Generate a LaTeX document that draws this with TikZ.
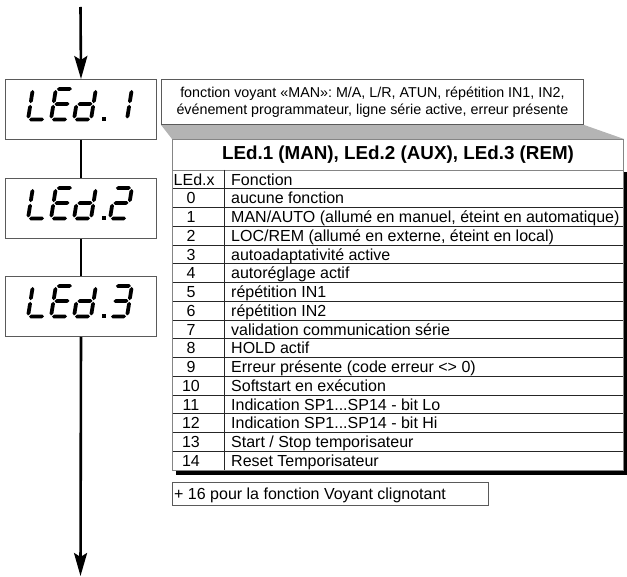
\documentclass[tikz,border=0pt]{standalone}
\usepackage{fontspec}
\setmainfont{Liberation Sans}
\usetikzlibrary{arrows.meta,backgrounds}
\definecolor{boxgray}{HTML}{5A5A5A}
\definecolor{tabgray}{HTML}{858585}
\definecolor{trapgray}{HTML}{B4B4B4}
\newcommand\hsg[3]{\fill (#1,#3) -- ({#1+1.9},{#3+1.9}) -- ({#2-1.9},{#3+1.9}) -- (#2,#3) -- ({#2-1.9},{#3-1.9}) -- ({#1+1.9},{#3-1.9}) -- cycle;}
\newcommand\vsg[3]{\fill (#1,#2) -- ({#1+1.9},{#2+1.9}) -- ({#1+1.9},{#3-1.9}) -- (#1,#3) -- ({#1-1.9},{#3-1.9}) -- ({#1-1.9},{#2+1.9}) -- cycle;}
\newcommand\sgA{\hsg{1}{16}{30.5}}
\newcommand\sgB{\vsg{17}{16.3}{29.5}}
\newcommand\sgC{\vsg{17}{1}{14.7}}
\newcommand\sgD{\hsg{1}{16}{0}}
\newcommand\sgE{\vsg{0}{1}{14.7}}
\newcommand\sgF{\vsg{0}{16.3}{29.5}}
\newcommand\sgG{\hsg{1}{16}{15.5}}
% #1 = x of cell, #2 = y of bottom, #3 = segment commands
\newcommand\lcd[3]{\begin{scope}[shift={(#1,#2)},x=1pt,y=1pt,xslant=0.16]#3\end{scope}}
\newcommand\lcdword[2]{%
  \lcd{28}{#1}{\sgF\sgE\sgD}%
  \lcd{51}{#1}{\sgA\sgF\sgG\sgE\sgD}%
  \lcd{74}{#1}{\sgB\sgC\sgD\sgE\sgG}%
  \fill ({101.5},{#1+1.8}) rectangle ++(4,-4.2);% dot
  \lcd{110}{#1}{#2}}
\begin{document}
\begin{tikzpicture}[x=1pt,y=-1pt,
  ledbox/.style={draw=boxgray,line width=1pt,fill=white,minimum width=151pt,minimum height=60pt,anchor=north west,inner sep=0pt},
  flowline/.style={line width=2.6pt,black},
  infobox/.style={draw=boxgray,line width=0.9pt,fill=white,minimum width=422pt,minimum height=45pt,anchor=north west,align=center,inner sep=0pt,font=\fontsize{14.3}{17}\selectfont},
  titlebox/.style={draw=tabgray,line width=1pt,fill=white,minimum width=451pt,minimum height=31pt,anchor=north west,inner sep=0pt,font=\fontsize{18.8}{22}\selectfont\bfseries},
  tabbox/.style={draw=tabgray,line width=1pt,fill=white,minimum width=451pt,minimum height=300pt,anchor=north west,inner sep=0pt},
  cell/.style={anchor=base west,inner sep=0pt,font=\fontsize{16}{19}\selectfont},
  num/.style={anchor=base,inner sep=0pt,font=\fontsize{16}{19}\selectfont},
  rowline/.style={line width=0.8pt,black!85},
  notebox/.style={draw=boxgray,line width=0.9pt,minimum width=316pt,minimum height=23pt,anchor=north west,inner sep=0pt}
]
\useasboundingbox (0,0) rectangle (627,577);

% display boxes
\node[ledbox] (led1) at (5,79) {};
\node[ledbox] (led2) at (5,178) {};
\node[ledbox] (led3) at (5,276) {};
\coordinate (top) at (80.5,7);
\coordinate (bot) at (80.5,576);
\draw[flowline,-{Stealth[length=23pt,width=13pt,inset=4pt]}] (top) -- (led1.north);
\draw[flowline] (led1.south) -- (led2.north);
\draw[flowline] (led2.south) -- (led3.north);
\draw[flowline,-{Stealth[length=23pt,width=13pt,inset=4pt]}] (led3.south) -- (bot);

% seven-segment texts
\lcdword{119.5}{\sgB\sgC}
\lcdword{218.5}{\sgA\sgB\sgG\sgE\sgD}
\lcdword{316.5}{\sgA\sgB\sgG\sgC\sgD}

% info box and zoom trapezoid
\node[infobox] (info) at (161,79) {fonction voyant «MAN»: M/A, L/R, ATUN, répétition IN1, IN2,\\événement programmateur, ligne série active, erreur présente};
\node[titlebox] (title) at (172,139) {LEd.1 (MAN), LEd.2 (AUX), LEd.3 (REM)};
\begin{scope}[on background layer]
  \fill[trapgray] (info.south west) -- (info.south east) -- (title.north east) -- (title.north west) -- cycle;
  \fill[black] (176,172) rectangle (627.5,475);
\end{scope}

% table body
\node[tabbox] (tab) at (172,170) {};
\foreach \yy in {188.75,207.5,226.25,245,263.75,282.5,301.25,320,338.75,357.5,376.25,395,413.75,432.5,451.25}
  \draw[rowline] (172.5,\yy) -- (622.5,\yy);
\coordinate (coltop) at (224,170);
\coordinate (colbot) at (224,470);
\draw[rowline] (coltop) -- (colbot);

\node[cell] (hx) at (173.5,185.2) {LEd.x};
\node[cell] (hf) at (231,185.2) {Fonction};
\node[num] (n0) at (191,203.9) {0};   \node[cell] (f0) at (231,203.9) {aucune fonction};
\node[num] (n1) at (191,222.7) {1};   \node[cell] (f1) at (231,222.7) {MAN/AUTO (allumé en manuel, éteint en automatique)};
\node[num] (n2) at (191,241.4) {2};   \node[cell] (f2) at (231,241.4) {LOC/REM (allumé en externe, éteint en local)};
\node[num] (n3) at (191,260.2) {3};   \node[cell] (f3) at (231,260.2) {autoadaptativité active};
\node[num] (n4) at (191,278.9) {4};   \node[cell] (f4) at (231,278.9) {autoréglage actif};
\node[num] (n5) at (191,297.7) {5};   \node[cell] (f5) at (231,297.7) {répétition IN1};
\node[num] (n6) at (191,316.4) {6};   \node[cell] (f6) at (231,316.4) {répétition IN2};
\node[num] (n7) at (191,335.2) {7};   \node[cell] (f7) at (231,335.2) {validation communication série};
\node[num] (n8) at (191,353.9) {8};   \node[cell] (f8) at (231,353.9) {HOLD actif};
\node[num] (n9) at (191,372.7) {9};   \node[cell] (f9) at (231,372.7) {Erreur présente (code erreur <> 0)};
\node[num] (n10) at (191,391.4) {10}; \node[cell] (f10) at (231,391.4) {Softstart en exécution};
\node[num] (n11) at (191,410.2) {11}; \node[cell] (f11) at (231,410.2) {Indication SP1...SP14 - bit Lo};
\node[num] (n12) at (191,428.9) {12}; \node[cell] (f12) at (231,428.9) {Indication SP1...SP14 - bit Hi};
\node[num] (n13) at (191,447.7) {13}; \node[cell] (f13) at (231,447.7) {Start / Stop temporisateur};
\node[num] (n14) at (191,466.4) {14}; \node[cell] (f14) at (231,466.4) {Reset Temporisateur};

% note box
\node[notebox] (note) at (172,482) {};
\node[cell] (notetext) at (174,499) {+ 16 pour la fonction Voyant clignotant};
\end{tikzpicture}
\end{document}
